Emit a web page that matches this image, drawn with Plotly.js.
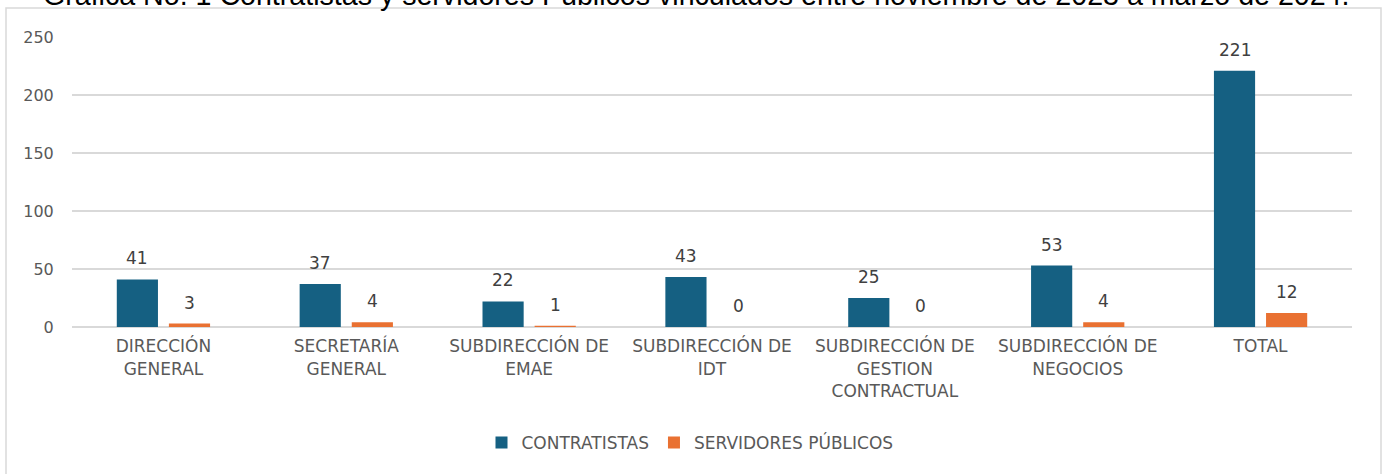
<!DOCTYPE html>
<html>
<head>
<meta charset="utf-8">
<script src="https://cdn.plot.ly/plotly-3.0.1.min.js"></script>
<style>html,body{margin:0;padding:0;background:#fff;}#chart{width:1387px;height:474px;}</style>
</head>
<body>
<div id="chart"></div>
<script>
const categories = [
  "DIRECCIÓN<br>GENERAL",
  "SECRETARÍA<br>GENERAL",
  "SUBDIRECCIÓN DE<br>EMAE",
  "SUBDIRECCIÓN DE<br>IDT",
  "SUBDIRECCIÓN DE<br>GESTION<br>CONTRACTUAL",
  "SUBDIRECCIÓN DE<br>NEGOCIOS",
  "TOTAL"
];
const contratistas = [41, 37, 22, 43, 25, 53, 221];
const servidores = [3, 4, 1, 0, 0, 4, 12];
const seriesNames = ["CONTRATISTAS", "SERVIDORES PÚBLICOS"];
const yTicks = [0, 50, 100, 150, 200, 250];
const titleText = "Gráfica No. 1 Contratistas y servidores Públicos vinculados entre noviembre de 2023 a marzo de 2024.";

const FONT = "DejaVu Sans";
const BLUE = "#156082";
const ORANGE = "#E97132";

const traces = [
  {type: "bar", name: seriesNames[0], x: categories, y: contratistas,
   marker: {color: BLUE}, hoverinfo: "skip"},
  {type: "bar", name: seriesNames[1], x: categories, y: servidores,
   marker: {color: ORANGE}, hoverinfo: "skip"}
];

const annotations = [];
[[contratistas, -26], [servidores, 26]].forEach(([vals, dx]) => {
  vals.forEach((v, i) => {
    annotations.push({x: categories[i], y: v, xref: "x", yref: "y",
      text: String(v), showarrow: false, xshift: dx, yshift: 9,
      yanchor: "bottom", font: {family: FONT, size: 17, color: "#404040"}});
  });
});
annotations.push({xref: "paper", yref: "paper", x: (696 - 72) / 1280, y: 1.145,
  xanchor: "center", yanchor: "middle", text: titleText, showarrow: false,
  font: {family: "Liberation Sans", size: 28.6, color: "#000"}});

const layout = {
  width: 1387, height: 474,
  margin: {l: 72, r: 35, t: 37, b: 147},
  paper_bgcolor: "#fff", plot_bgcolor: "#fff",
  barmode: "group", bargap: 0.43, bargroupgap: 0.21,
  showlegend: true,
  legend: {orientation: "h", x: (690 - 72) / 1280, xanchor: "center",
    y: -0.4, yanchor: "middle", font: {family: FONT, size: 17, color: "#595959"},
    itemclick: false, itemwidth: 30, tracegroupgap: 0},
  xaxis: {type: "category", tickfont: {family: FONT, size: 17, color: "#595959"},
    showline: false, showgrid: false, ticks: "outside", ticklen: 4, tickcolor: "rgba(0,0,0,0)",
    fixedrange: true, automargin: false},
  yaxis: {range: [0, 250], tickvals: yTicks, showgrid: true, gridcolor: "#d9d9d9", gridwidth: 1.5,
    zeroline: true, zerolinecolor: "#d9d9d9", zerolinewidth: 1.5, showline: false,
    ticks: "outside", ticklen: 14, tickcolor: "rgba(0,0,0,0)",
    tickfont: {family: FONT, size: 16, color: "#595959"}, fixedrange: true, automargin: false},
  annotations: annotations,
  shapes: [{type: "rect", xref: "paper", yref: "paper",
    x0: (6 - 72) / 1280, x1: (1381 - 72) / 1280, y0: (327 - 490) / 290, y1: (327 - 8) / 290,
    line: {color: "#d9d9d9", width: 1.5}, fillcolor: "rgba(0,0,0,0)", layer: "below"}]
};

Plotly.newPlot("chart", traces, layout, {staticPlot: true, displayModeBar: false});
</script>
</body>
</html>
